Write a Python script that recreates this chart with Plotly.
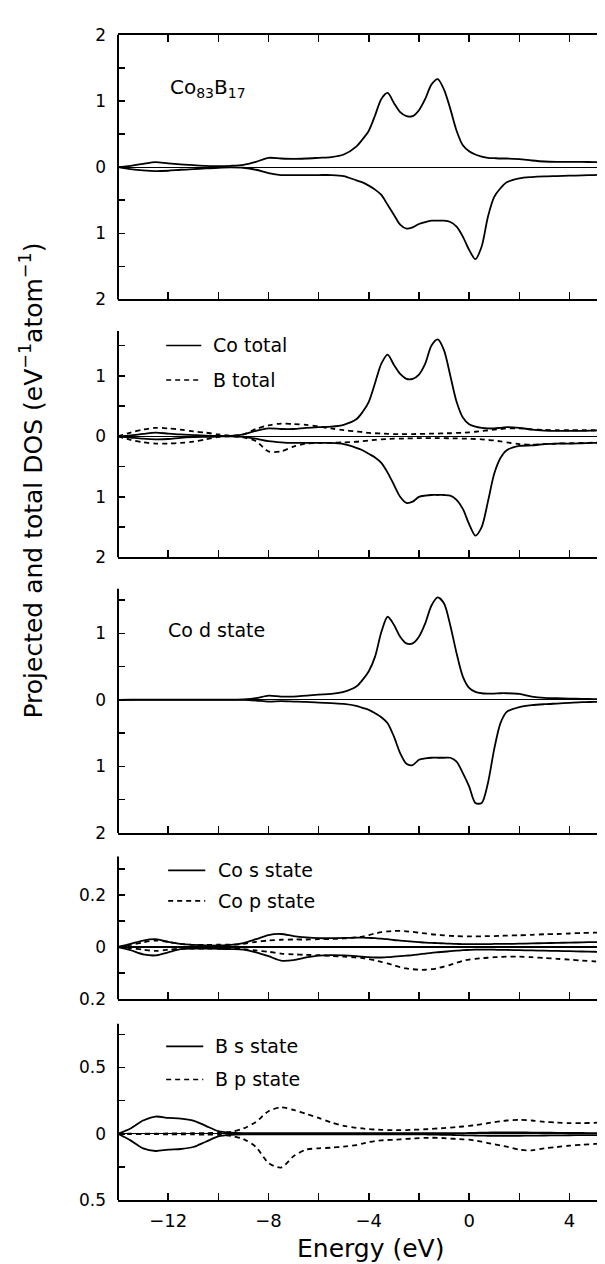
import plotly.graph_objects as go

# ---------------- data ----------------
energy = [-14, -13.5, -13, -12.5, -12, -11.5, -11, -10.5, -10, -9.5, -9, -8.5, -8, -7.5, -7, -6.5, -6, -5.5, -5, -4.5,
          -4.25, -4, -3.75, -3.5, -3.25, -3, -2.75, -2.5, -2.25, -2, -1.75, -1.5, -1.25, -1, -0.75, -0.5, -0.25, 0,
          0.25, 0.5, 0.75, 1, 1.25, 1.5,
          2, 2.5, 3, 3.5, 4, 4.5, 5, 5.5, 6]

# panel 1: Co83B17 total
total_up = [0, 0.02, 0.05, 0.075, 0.055, 0.04, 0.03, 0.02, 0.015, 0.02, 0.035, 0.08, 0.14, 0.13, 0.125, 0.13, 0.14, 0.15, 0.19, 0.31,
            0.42, 0.55, 0.78, 1.03, 1.12, 0.97, 0.83, 0.77, 0.77, 0.86, 1.03, 1.25, 1.33, 1.17, 0.88, 0.55, 0.33, 0.24, 0.19, 0.16, 0.14, 0.135, 0.13, 0.13,
            0.12, 0.1, 0.085, 0.08, 0.08, 0.08, 0.075, 0.075, 0.075]
total_dn = [0, -0.03, -0.05, -0.06, -0.055, -0.04, -0.03, -0.02, -0.01, -0.005, -0.01, -0.04, -0.09, -0.12, -0.12, -0.12, -0.12, -0.12, -0.135, -0.2,
            -0.23, -0.28, -0.34, -0.42, -0.57, -0.72, -0.87, -0.93, -0.91, -0.86, -0.83, -0.81, -0.81, -0.81, -0.83, -0.9, -1.05, -1.25, -1.39, -1.2, -0.75, -0.45, -0.32, -0.23,
            -0.17, -0.15, -0.14, -0.135, -0.13, -0.125, -0.12, -0.115, -0.115]

# panel 2: Co total / B total
co_total_up = [0, 0.015, 0.04, 0.06, 0.045, 0.03, 0.02, 0.01, 0.005, 0.005, 0.03, 0.09, 0.13, 0.12, 0.12, 0.14, 0.15, 0.16, 0.19, 0.28,
               0.4, 0.57, 0.88, 1.2, 1.35, 1.18, 1.03, 0.95, 0.95, 1.02, 1.2, 1.5, 1.6, 1.42, 1.0, 0.57, 0.31, 0.2, 0.16, 0.14, 0.13, 0.13, 0.14, 0.15,
               0.14, 0.11, 0.095, 0.09, 0.09, 0.09, 0.095, 0.1, 0.1]
co_total_dn = [0, -0.02, -0.04, -0.05, -0.045, -0.025, -0.015, -0.01, -0.005, 0, -0.01, -0.04, -0.08, -0.1, -0.11, -0.11, -0.11, -0.11, -0.13, -0.19,
               -0.23, -0.29, -0.35, -0.44, -0.6, -0.8, -1.0, -1.1, -1.08, -1.0, -0.98, -0.97, -0.97, -0.97, -0.98, -1.05, -1.2, -1.45, -1.64, -1.5, -1.08, -0.62, -0.36, -0.23,
               -0.16, -0.15, -0.13, -0.12, -0.12, -0.115, -0.11, -0.11, -0.11]
b_total_up = [0, 0.06, 0.11, 0.14, 0.13, 0.11, 0.08, 0.06, 0.03, 0.01, 0.03, 0.12, 0.18, 0.21, 0.2, 0.19, 0.16, 0.13, 0.1, 0.08,
              0.07, 0.055, 0.05, 0.045, 0.04, 0.035, 0.035, 0.035, 0.035, 0.04, 0.04, 0.045, 0.045, 0.05, 0.05, 0.055, 0.06, 0.065, 0.075, 0.085, 0.1, 0.11, 0.12, 0.13,
              0.13, 0.115, 0.105, 0.1, 0.1, 0.1, 0.1, 0.1, 0.1]
b_total_dn = [0, -0.06, -0.1, -0.12, -0.12, -0.11, -0.09, -0.05, -0.01, 0, -0.02, -0.08, -0.25, -0.25, -0.17, -0.12, -0.11, -0.11, -0.1, -0.09,
              -0.08, -0.07, -0.06, -0.05, -0.045, -0.04, -0.04, -0.035, -0.035, -0.03, -0.03, -0.03, -0.03, -0.03, -0.035, -0.035, -0.04, -0.04, -0.045, -0.05, -0.06, -0.07, -0.085, -0.1,
              -0.13, -0.14, -0.13, -0.12, -0.115, -0.11, -0.105, -0.1, -0.1]

# panel 3: Co d state
co_d_up = [0, 0.002, 0.004, 0.005, 0.005, 0.004, 0.003, 0.003, 0.004, 0.005, 0.008, 0.025, 0.065, 0.05, 0.05, 0.065, 0.08, 0.09, 0.12, 0.2,
           0.3, 0.43, 0.65, 1.02, 1.25, 1.13, 0.95, 0.85, 0.85, 0.95, 1.15, 1.42, 1.54, 1.45, 1.12, 0.7, 0.35, 0.18, 0.12, 0.1, 0.095, 0.095, 0.1, 0.1,
           0.09, 0.05, 0.03, 0.025, 0.02, 0.015, 0.012, 0.01, 0.01]
co_d_dn = [0, 0, 0, 0, 0, 0, 0, 0, 0, 0, 0, -0.01, -0.025, -0.02, -0.025, -0.03, -0.04, -0.05, -0.06, -0.09,
           -0.12, -0.15, -0.2, -0.26, -0.35, -0.55, -0.8, -0.96, -0.98, -0.9, -0.88, -0.87, -0.87, -0.87, -0.87, -0.93, -1.1, -1.3, -1.55, -1.55, -1.25, -0.74, -0.35, -0.18,
           -0.11, -0.08, -0.065, -0.055, -0.045, -0.035, -0.03, -0.025, -0.025]

# panel 4: Co s / Co p states
co_s_up = [0, 0.012, 0.025, 0.03, 0.02, 0.012, 0.008, 0.006, 0.006, 0.008, 0.015, 0.03, 0.046, 0.05, 0.042, 0.037, 0.034, 0.034, 0.035, 0.036,
           0.036, 0.035, 0.034, 0.032, 0.03, 0.027, 0.025, 0.023, 0.021, 0.019, 0.017, 0.016, 0.015, 0.014, 0.013, 0.012, 0.011, 0.011, 0.011, 0.011, 0.011, 0.012, 0.012, 0.012,
           0.013, 0.014, 0.015, 0.016, 0.017, 0.018, 0.019, 0.019, 0.02]
co_s_dn = [0, -0.012, -0.028, -0.032, -0.02, -0.008, -0.006, -0.006, -0.007, -0.008, -0.01, -0.02, -0.035, -0.052, -0.05, -0.04, -0.033, -0.031, -0.032, -0.035,
           -0.037, -0.039, -0.04, -0.04, -0.039, -0.037, -0.035, -0.033, -0.031, -0.028, -0.025, -0.022, -0.02, -0.018, -0.016, -0.014, -0.012, -0.011, -0.01, -0.01, -0.01, -0.01, -0.011, -0.011,
           -0.012, -0.013, -0.014, -0.015, -0.016, -0.017, -0.018, -0.019, -0.02]
co_p_up = [0, 0.008, 0.018, 0.025, 0.02, 0.012, 0.008, 0.008, 0.009, 0.009, 0.012, 0.02, 0.025, 0.028, 0.029, 0.029, 0.03, 0.031, 0.033, 0.037,
           0.04, 0.046, 0.052, 0.057, 0.06, 0.062, 0.062, 0.06, 0.058, 0.055, 0.052, 0.049, 0.047, 0.045, 0.043, 0.042, 0.041, 0.041, 0.041, 0.041, 0.042, 0.042, 0.043, 0.044,
           0.045, 0.047, 0.049, 0.05, 0.052, 0.054, 0.055, 0.056, 0.056]
co_p_dn = [0, -0.004, -0.01, -0.015, -0.01, -0.006, -0.006, -0.006, -0.006, -0.006, -0.008, -0.013, -0.018, -0.025, -0.028, -0.03, -0.031, -0.034, -0.037, -0.04,
           -0.042, -0.046, -0.051, -0.057, -0.063, -0.07, -0.077, -0.082, -0.085, -0.087, -0.087, -0.085, -0.081, -0.075, -0.068, -0.06, -0.053, -0.048, -0.045, -0.043, -0.041, -0.039, -0.038, -0.037,
           -0.037, -0.039, -0.042, -0.045, -0.048, -0.052, -0.055, -0.058, -0.058]

# panel 5: B s / B p states
b_s_up = [0, 0.04, 0.1, 0.13, 0.12, 0.115, 0.1, 0.06, 0.02, 0.008, 0.005, 0.005, 0.005, 0.005, 0.005, 0.005, 0.005, 0.005, 0.005, 0.005,
          0.005, 0.005, 0.005, 0.005, 0.005, 0.005, 0.005, 0.005, 0.005, 0.005, 0.005, 0.005, 0.005, 0.005, 0.005, 0.005, 0.005, 0.006, 0.007, 0.008, 0.009, 0.01, 0.01, 0.01,
          0.01, 0.009, 0.008, 0.007, 0.006, 0.006, 0.005, 0.005, 0.005]
b_s_dn = [0, -0.05, -0.11, -0.13, -0.12, -0.115, -0.1, -0.06, -0.02, -0.008, -0.005, -0.005, -0.005, -0.005, -0.005, -0.005, -0.005, -0.005, -0.005, -0.005,
          -0.005, -0.005, -0.005, -0.005, -0.005, -0.005, -0.005, -0.005, -0.005, -0.005, -0.005, -0.006, -0.007, -0.008, -0.009, -0.01, -0.011, -0.012, -0.013, -0.014, -0.015, -0.015, -0.015, -0.015,
          -0.015, -0.014, -0.013, -0.012, -0.011, -0.01, -0.01, -0.01, -0.01]
b_p_up = [0, 0, 0, 0.001, 0.002, 0.003, 0.004, 0.005, 0.008, 0.015, 0.04, 0.09, 0.17, 0.2, 0.18, 0.15, 0.12, 0.085, 0.06, 0.045,
          0.04, 0.035, 0.032, 0.03, 0.028, 0.027, 0.027, 0.028, 0.03, 0.032, 0.034, 0.037, 0.04, 0.043, 0.047, 0.051, 0.055, 0.06, 0.065, 0.072, 0.08, 0.088, 0.095, 0.1,
          0.105, 0.1, 0.09, 0.085, 0.08, 0.08, 0.083, 0.088, 0.09]
b_p_dn = [0, -0.001, -0.002, -0.003, -0.004, -0.005, -0.005, -0.006, -0.008, -0.015, -0.04, -0.1, -0.22, -0.255, -0.17, -0.12, -0.11, -0.105, -0.097, -0.085,
          -0.074, -0.063, -0.055, -0.05, -0.047, -0.045, -0.042, -0.039, -0.036, -0.033, -0.031, -0.03, -0.031, -0.033, -0.036, -0.039, -0.042, -0.045, -0.052, -0.06, -0.07, -0.079, -0.088, -0.097,
          -0.12, -0.125, -0.11, -0.1, -0.09, -0.083, -0.077, -0.07, -0.068]

# tick labels
x_tick_vals = [-12, -8, -4, 0, 4]
x_minor_vals = [-10, -6, -2, 2]
y_ticks_big = [-2, -1, 0, 1, 2]
y_text_big = ["2", "1", "0", "1", "2"]
y_minor_big = [-1.5, -0.5, 0.5, 1.5]
y_ticks_p4 = [-0.2, 0, 0.2]
y_text_p4 = ["0.2", "0", "0.2"]
y_minor_p4 = [-0.1, 0.1, 0.3]
y_ticks_p5 = [-0.5, 0, 0.5]
y_text_p5 = ["0.5", "0", "0.5"]
y_minor_p5 = [-0.25, 0.25, 0.75]

# ---------------- layout helpers ----------------
W, H = 605, 1264
FONT = "DejaVu Sans"
X_LEFT_PX = 110
X_RANGE = [-14, -14 + (W - X_LEFT_PX) / 25.08]

def py(p):
    return 1 - p / H

panels = [
    dict(top=17, bot=286, rng=[-2, 2], tv=y_ticks_big, tt=y_text_big, mv=y_minor_big),
    dict(top=318, bot=548, rng=[-2, 1.74], tv=y_ticks_big[:-1], tt=y_text_big[:-1], mv=y_minor_big),
    dict(top=580, bot=828, rng=[-2, 1.67], tv=y_ticks_big[:-1], tt=y_text_big[:-1], mv=y_minor_big),
    dict(top=852, bot=997, rng=[-0.2, 0.347], tv=y_ticks_p4, tt=y_text_p4, mv=y_minor_p4),
    dict(top=1022, bot=1201, rng=[-0.5, 0.83], tv=y_ticks_p5, tt=y_text_p5, mv=y_minor_p5),
]

series = [
    (1, total_up, "solid"), (1, total_dn, "solid"),
    (2, co_total_up, "solid"), (2, co_total_dn, "solid"),
    (2, b_total_up, "dash"), (2, b_total_dn, "dash"),
    (3, co_d_up, "solid"), (3, co_d_dn, "solid"),
    (4, co_s_up, "solid"), (4, co_s_dn, "solid"),
    (4, co_p_up, "dash"), (4, co_p_dn, "dash"),
    (5, b_s_up, "solid"), (5, b_s_dn, "solid"),
    (5, b_p_up, "dash"), (5, b_p_dn, "dash"),
]

DASH = "5px,4px"
fig = go.Figure()
for k, vals, style in series:
    sfx = "" if k == 1 else str(k)
    fig.add_trace(go.Scatter(
        x=energy, y=vals, mode="lines", xaxis="x" + sfx, yaxis="y" + sfx,
        line=dict(color="black", width=1.8, shape="spline", smoothing=0.8,
                  dash=DASH if style == "dash" else "solid"),
        showlegend=False, hoverinfo="skip"))

layout = dict(width=W, height=H, margin=dict(l=0, r=0, t=0, b=0),
              paper_bgcolor="white", plot_bgcolor="white", showlegend=False,
              font=dict(family=FONT, color="black"))

shapes = []
for i, p in enumerate(panels, start=1):
    sfx = "" if i == 1 else str(i)
    last = (i == len(panels))
    layout["xaxis" + sfx] = dict(
        domain=[X_LEFT_PX / W, 1], range=X_RANGE, anchor="y" + sfx,
        showline=True, linecolor="black", linewidth=2,
        mirror="ticks" if i == 1 else False,
        ticks="inside", ticklen=7, tickwidth=1.5, tickcolor="black",
        tickmode="array", tickvals=x_tick_vals,
        minor=dict(tickvals=x_minor_vals, ticks="inside", ticklen=7, tickwidth=1.5, tickcolor="black"),
        showticklabels=last, tickfont=dict(family=FONT, size=18, color="black"),
        ticklabelstandoff=3,
        showgrid=False, zeroline=False, fixedrange=True)
    layout["yaxis" + sfx] = dict(
        domain=[py(p["bot"]), py(p["top"])], range=p["rng"], anchor="x" + sfx,
        showline=False, mirror="ticks",
        ticks="inside", ticklen=7, tickwidth=1.5, tickcolor="black",
        tickmode="array", tickvals=p["tv"], ticktext=p["tt"],
        minor=dict(tickvals=p["mv"], ticks="inside", ticklen=7, tickwidth=1.5, tickcolor="black"),
        tickfont=dict(family=FONT, size=17, color="black"), ticklabelstandoff=11,
        showgrid=False, zeroline=True, zerolinecolor="black", zerolinewidth=1.2,
        fixedrange=True)
    shapes.append(dict(type="line", xref="x%s domain" % sfx, yref="y%s domain" % sfx,
                       x0=0, x1=0, y0=0, y1=1, line=dict(color="black", width=2)))

annotations = []

def note(text, x, y, k, size=19):
    sfx = "" if k == 1 else str(k)
    annotations.append(dict(text=text, x=x, y=y, xref="x" + sfx, yref="y" + sfx,
                            xanchor="left", yanchor="middle", showarrow=False,
                            font=dict(family=FONT, size=size, color="black")))

def sample(x0, x1, y, k, dash):
    sfx = "" if k == 1 else str(k)
    shapes.append(dict(type="line", xref="x" + sfx, yref="y" + sfx, x0=x0, x1=x1, y0=y, y1=y,
                       line=dict(color="black", width=1.6, dash=DASH if dash else "solid")))

note("Co<sub>83</sub>B<sub>17</sub>", -12.0, 1.2, 1, size=20)
sample(-12.08, -10.68, 1.5, 2, False)
note("Co total", -10.28, 1.5, 2)
sample(-12.08, -10.68, 0.93, 2, True)
note("B total", -10.28, 0.93, 2)
note("Co d state", -12.1, 1.05, 3)
sample(-12.0, -10.52, 0.294, 4, False)
note("Co s state", -10.08, 0.294, 4)
sample(-12.0, -10.52, 0.177, 4, True)
note("Co p state", -10.08, 0.177, 4)
sample(-12.08, -10.6, 0.66, 5, False)
note("B s state", -10.2, 0.66, 5)
sample(-12.08, -10.6, 0.41, 5, True)
note("B p state", -10.2, 0.41, 5)

annotations.append(dict(text="Projected and total DOS (eV<sup>\u22121</sup>atom<sup>\u22121</sup>)",
                        x=24 / W, y=py(470), xref="paper", yref="paper", textangle=-90,
                        xanchor="center", yanchor="middle", showarrow=False,
                        font=dict(family=FONT, size=25, color="black")))
annotations.append(dict(text="Energy (eV)", x=362 / W, y=py(1250), xref="paper", yref="paper",
                        xanchor="center", yanchor="middle", showarrow=False,
                        font=dict(family=FONT, size=25, color="black")))

layout["shapes"] = shapes
layout["annotations"] = annotations
fig.update_layout(**layout)
fig.write_html("out.html", config={"displayModeBar": False, "staticPlot": True})
